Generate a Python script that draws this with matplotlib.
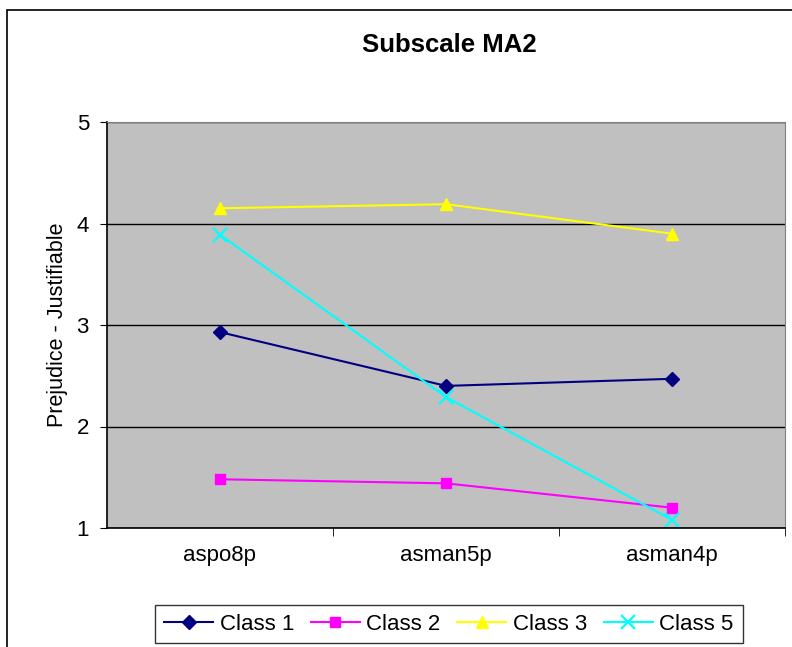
import matplotlib.pyplot as plt
from matplotlib.patches import Rectangle

plt.rcParams["font.family"] = ["Liberation Sans", "DejaVu Sans"]

categories = ["aspo8p", "asman5p", "asman4p"]
class1 = [2.93, 2.40, 2.47]
class2 = [1.48, 1.44, 1.20]
class3 = [4.15, 4.19, 3.90]
class5 = [3.89, 2.29, 1.08]

series = [
    ("Class 1", class1, "#000080", "D", 7),
    ("Class 2", class2, "#FF00FF", "s", 7),
    ("Class 3", class3, "#FFFF00", "^", 8),
    ("Class 5", class5, "#00FFFF", "x", 10),
]

fig = plt.figure(figsize=(7.92, 6.47), dpi=100)
ax = fig.add_axes([107 / 792, 1 - 528 / 647, 678 / 792, 406 / 647])

# outer chart border (cut off at right/bottom like the original)
fig.patches.append(Rectangle((7 / 792, -0.1), 1.2, 1 - 10 / 647 + 0.1,
                             transform=fig.transFigure, fill=False,
                             edgecolor="black", linewidth=1.2))

ax.set_facecolor("#C0C0C0")
x = range(len(categories))
for name, vals, color, marker, ms in series:
    ax.plot(x, vals, color=color, marker=marker, markersize=ms,
            linewidth=1.5, label=name, markeredgewidth=1.6 if marker == "x" else 1)

ax.set_xlim(-0.5, len(categories) - 0.5)
ax.set_ylim(1, 5)
ax.set_yticks([1, 2, 3, 4, 5])
ax.yaxis.grid(True, color="black", linewidth=1)
ax.set_axisbelow(True)

ax.set_xticks(list(x))
ax.set_xticklabels(categories, fontsize=16)
ax.tick_params(axis="x", length=0, pad=12)
ax.set_xticks([0.5, 1.5, 2.5], minor=True)
ax.tick_params(axis="x", which="minor", length=6, direction="out")
ax.tick_params(axis="y", labelsize=16, length=5, direction="out", pad=8)

for side in ["top", "right"]:
    ax.spines[side].set_color("#808080")
for side in ["left", "bottom"]:
    ax.spines[side].set_color("black")
    ax.spines[side].set_linewidth(1.2)

ax.set_ylabel("Prejudice - Justifiable", fontsize=15.5, labelpad=6)
fig.text(449 / 792, 1 - 45 / 647, "Subscale MA2", ha="center", va="center",
         fontsize=18.5, fontweight="bold")

leg = fig.legend(loc="center", bbox_to_anchor=(449 / 792, 1 - 624 / 647), ncol=4,
                 fontsize=16, frameon=True, fancybox=False, handlelength=2.2,
                 columnspacing=0.75, handletextpad=0.3, borderpad=0.4)
leg.get_frame().set_edgecolor("black")
leg.get_frame().set_linewidth(1)

fig.savefig("out.png", dpi=100)
